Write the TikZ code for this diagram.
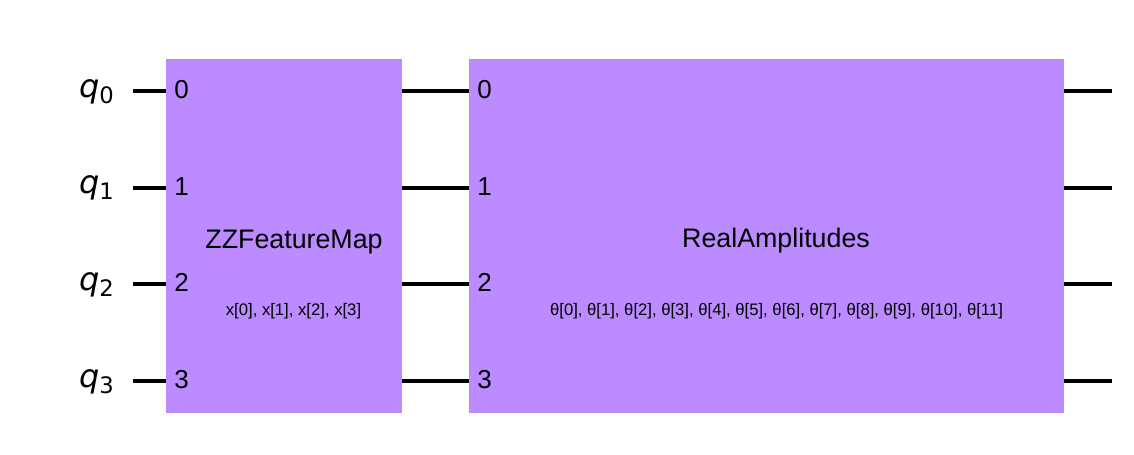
\documentclass[tikz,border=0pt]{standalone}
\usepackage{fontspec}
\setmainfont{Liberation Sans}
\newfontfamily\djv{DejaVu Sans}
\definecolor{gatepurple}{HTML}{BB8BFF}
\begin{document}
\begin{tikzpicture}[x=0.75pt,y=-0.75pt,
  gate/.style={fill=gatepurple, draw=none, inner sep=0, outer sep=0, anchor=north west},
  wire/.style={line width=3pt, black},
  idx/.style={anchor=base west, inner sep=0, font=\fontsize{19.5}{20}\selectfont},
  gname/.style={anchor=base, inner sep=0, font=\fontsize{20.1}{21}\selectfont},
  gpar/.style={anchor=base, inner sep=0, font=\fontsize{12.5}{13}\selectfont},
  qlab/.style={anchor=base east, inner sep=0, font=\djv\fontsize{24}{26}\selectfont}]
\path[use as bounding box] (0,0) rectangle (1134,454);
\node[gate, minimum width=177pt, minimum height=265.5pt] (zz) at (166,59) {};
\node[gate, minimum width=446pt, minimum height=265.5pt] (ra) at (469,59) {};
\foreach \i/\y in {0/91,1/187.7,2/284.3,3/381} {
  \coordinate (in\i) at (133,\y);
  \coordinate (out\i) at (1111.5,\y);
  \draw[wire] (in\i) -- (in\i -| zz.west);
  \draw[wire] (in\i -| zz.east) -- (in\i -| ra.west);
  \draw[wire] (in\i -| ra.east) -- (out\i);
  \node[qlab] (q\i) at (114,\y+6) {\itshape q\raisebox{-4.5pt}{\fontsize{17}{18}\selectfont\upshape \i}};
  \node[idx] (zzi\i) at (174,\y+7.5) {\i};
  \node[idx] (rai\i) at (477,\y+7.5) {\i};
}
\node[gname] (zzname) at (294,248.3) {ZZFeatureMap};
\node[gpar] (zzpar) at (293.5,315.5) {x[0], x[1], x[2], x[3]};
\node[gname] (raname) at (776,247.5) {RealAmplitudes};
\node[gpar] (rapar) at (776.5,315.5) {θ[0], θ[1], θ[2], θ[3], θ[4], θ[5], θ[6], θ[7], θ[8], θ[9], θ[10], θ[11]};
\end{tikzpicture}
\end{document}
